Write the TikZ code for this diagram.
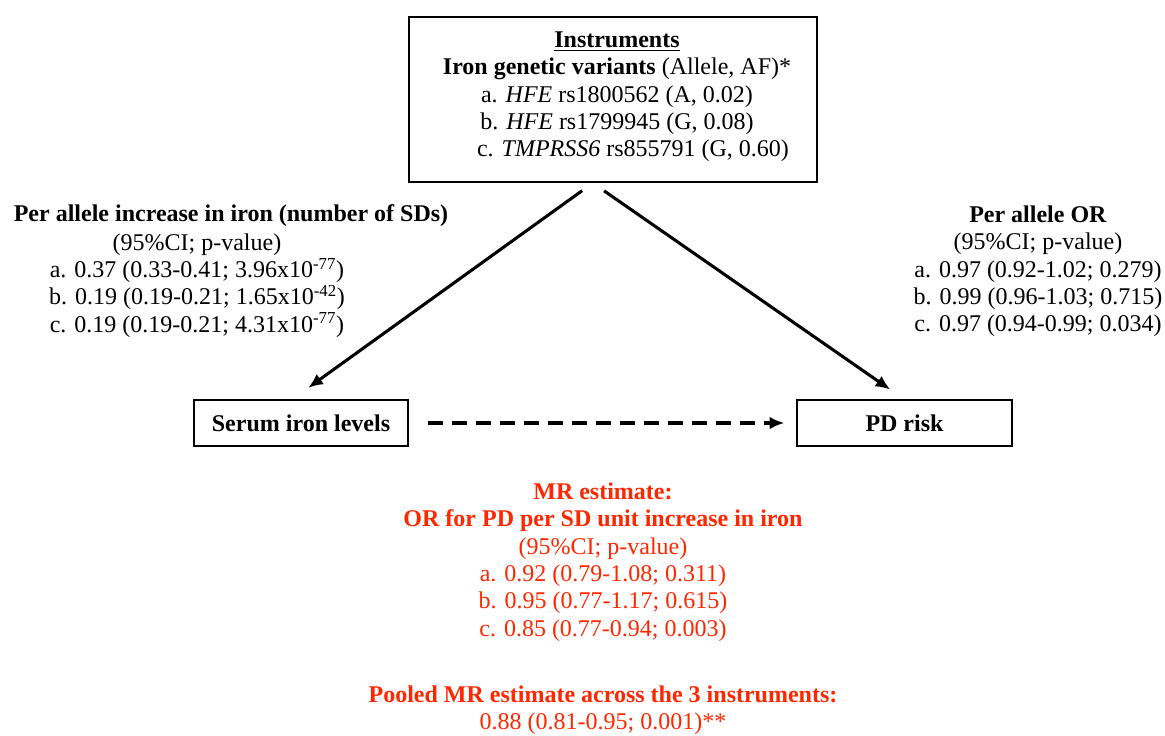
\documentclass[tikz,border=0pt]{standalone}
\usepackage{fontspec}
\setmainfont{Liberation Serif}
\usetikzlibrary{arrows.meta,positioning}
\definecolor{mrred}{RGB}{255,38,0}

\tikzset{
  txt/.style={align=center, inner sep=0pt, font=\fontsize{18}{20.5}\selectfont},
  box/.style={draw, line width=1.3pt, inner sep=0pt, font=\fontsize{18}{20.5}\selectfont\bfseries},
  arr/.style={line width=2.3pt, -{Latex[length=11pt,width=9.5pt]}}
}

\begin{document}
\begin{tikzpicture}[x=0.75pt,y=-0.75pt]
 \useasboundingbox (0,0) rectangle (1165,736);
 % boxes
 \node[box, minimum width=306pt, minimum height=123.75pt] (instr) at (613,99.5) {};
 \node[txt] (instrtxt) at (617,97) {\textbf{\underline{Instruments}}\\
   \textbf{Iron genetic variants} (Allele, AF)*\\
   a. \textit{HFE} rs1800562 (A, 0.02)\\
   b. \textit{HFE} rs1799945 (G, 0.08)\\
   \hspace*{24pt}c. \textit{TMPRSS6} rs855791 (G, 0.60)};
 \node[box, minimum width=161pt, minimum height=34pt] (serum) at (301,423) {Serum iron levels};
 \node[box, minimum width=161pt, minimum height=34pt] (pd) at (904.5,423) {PD risk};
 % left and right texts
 \node[txt, font=\fontsize{18}{20.5}\selectfont\bfseries] (lefttitle) at (231,216) {Per allele increase in iron (number of SDs)};
 \node[txt] (leftbody) at (197,285.5) {(95\%CI; p-value)\\
   a. 0.37 (0.33-0.41; 3.96x10\textsuperscript{-77})\\
   b. 0.19 (0.19-0.21; 1.65x10\textsuperscript{-42})\\
   c. 0.19 (0.19-0.21; 4.31x10\textsuperscript{-77})};
 \node[txt] (right) at (1038,271.5) {\textbf{Per allele OR}\\
   (95\%CI; p-value)\\
   a. 0.97 (0.92-1.02; 0.279)\\
   b. 0.99 (0.96-1.03; 0.715)\\
   c. 0.97 (0.94-0.99; 0.034)};
 % MR estimate
 \node[txt, text=mrred] (mr) at (603,562) {\textbf{MR estimate:}\\
   \textbf{OR for PD per SD unit increase in iron}\\
   (95\%CI; p-value)\\
   a. 0.92 (0.79-1.08; 0.311)\\
   b. 0.95 (0.77-1.17; 0.615)\\
   c. 0.85 (0.77-0.94; 0.003)};
 \node[txt, text=mrred] (pooled) at (603,710) {\textbf{Pooled MR estimate across the 3 instruments:}\\
   0.88 (0.81-0.95; 0.001)**};
 % arrows
 \draw[arr, shorten <=10pt, shorten >=15pt] ([xshift=-15pt]instr.south) -- ([xshift=-6.75pt]serum.north);
 \draw[arr, shorten <=10.5pt, shorten >=13pt] ([xshift=-15.3pt]instr.south) -- (pd.north);
 \draw[arr, dash pattern=on 11pt off 7pt, shorten <=14pt, shorten >=9pt] (serum.east) -- (pd.west);
\end{tikzpicture}
\end{document}
